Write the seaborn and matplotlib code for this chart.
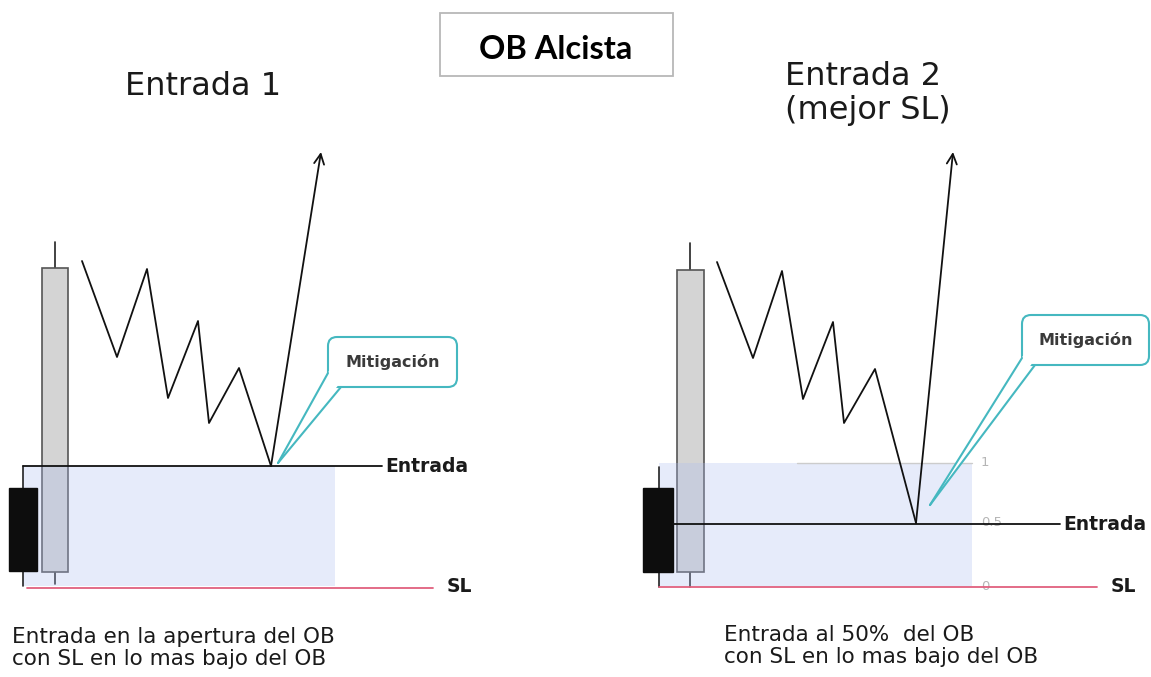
import matplotlib.pyplot as plt
import matplotlib.patches as mpatches
import numpy as np
import pandas as pd
import seaborn as sns

# two panels: "Entrada 1" (left) and "Entrada 2" (right), units = pixels of the picture
panels = ["Entrada 1", "Entrada 2"]
zz_x = {"Entrada 1": [82, 117, 147, 168, 198, 209, 239, 271],
        "Entrada 2": [717, 753, 782, 803, 833, 844, 875, 916]}
zz_y = {"Entrada 1": [261, 357, 269, 398, 321, 423, 368, 466],
        "Entrada 2": [262, 358, 271, 399, 322, 423, 369, 523]}
arrow_tip = {"Entrada 1": (321, 152), "Entrada 2": (953, 152)}

# candles: (left, right, body top, body bottom, wick top, wick bottom)
bear = {"Entrada 1": (9, 37, 488, 571, 466, 586), "Entrada 2": (643, 673, 488, 572, 467, 587)}
bull = {"Entrada 1": (42, 68, 268, 572, 242, 584), "Entrada 2": (677, 704, 270, 572, 243, 587)}

# order block zone: (x0, x1, top, bottom)
ob_zone = {"Entrada 1": (23, 335, 466, 586), "Entrada 2": (659, 972, 463, 586)}
entry_line = {"Entrada 1": (23, 382, 466), "Entrada 2": (673, 1060, 524)}
sl_line = {"Entrada 1": (27, 433, 588), "Entrada 2": (659, 1097, 587)}
fib_labels = ["1", "0.5", "0"]
fib_y = [463, 523, 586]

# callout: box (x0, x1, y0, y1), pointer base points and tip
callout_box = {"Entrada 1": (328, 457, 337, 387), "Entrada 2": (1022, 1149, 315, 365)}
callout_ptr = {"Entrada 1": [(328, 373), (341, 387), (278, 463)],
               "Entrada 2": [(1022, 358), (1035, 365), (930, 505)]}

captions = {"Entrada 1": ["Entrada en la apertura del OB", "con SL en lo mas bajo del OB"],
            "Entrada 2": ["Entrada al 50%  del OB", "con SL en lo mas bajo del OB"]}
titles = {"Entrada 1": ["Entrada 1"], "Entrada 2": ["Entrada 2", "(mejor SL)"]}

sns.set_style("white")
plt.rcParams['font.family'] = ['DejaVu Sans']

fig = plt.figure(figsize=(11.51, 6.77), dpi=100)
ax = fig.add_axes([0, 0, 1, 1])
ax.set_xlim(0, 1151)
ax.set_ylim(677, 0)
ax.axis('off')

teal = "#45b8c0"
ink = "#1a1a1a"
for p in panels:
    # bullish candle (grey)
    l, r, bt, bb, wt, wb = bull[p]
    cx = (l + r) / 2
    ax.plot([cx, cx], [wt, wb], color="#222222", lw=1.2, zorder=1)
    ax.add_patch(mpatches.Rectangle((l, bt), r - l, bb - bt, facecolor="#d4d4d4",
                                    edgecolor="#555555", lw=1.2, zorder=2))
    # OB zone
    x0, x1, top, bot = ob_zone[p]
    ax.add_patch(mpatches.Rectangle((x0, top), x1 - x0, bot - top, facecolor="#aebdf0",
                                    alpha=0.3, edgecolor="none", zorder=3))
    # bearish candle (black)
    l, r, bt, bb, wt, wb = bear[p]
    ax.plot([x0, x0], [wt, wb], color="#222222", lw=1.2, zorder=4)
    ax.add_patch(mpatches.Rectangle((l, bt), r - l, bb - bt, facecolor="#0d0d0d",
                                    edgecolor="#0d0d0d", lw=1, zorder=4))
    # entry and stop loss lines
    ex0, ex1, ey = entry_line[p]
    ax.plot([ex0, ex1], [ey, ey], color="#111111", lw=1.3, zorder=5)
    ax.text(ex1 + 3, ey + 1, "Entrada", fontsize=13.5, fontweight="bold", va="center",
            ha="left", color=ink)
    sx0, sx1, sy = sl_line[p]
    ax.plot([sx0, sx1], [sy, sy], color="#e0607e", lw=1.3, zorder=5)
    ax.text(sx1 + 14, sy - 1, "SL", fontsize=13.5, fontweight="bold", va="center",
            ha="left", color=ink)
    # price path
    df = pd.DataFrame({"x": zz_x[p], "y": zz_y[p]})
    sns.lineplot(data=df, x="x", y="y", sort=False, estimator=None, color="#111111",
                 lw=1.3, ax=ax, zorder=6)
    ax.annotate("", xy=arrow_tip[p], xytext=(zz_x[p][-1], zz_y[p][-1]),
                arrowprops=dict(arrowstyle="->", color="#111111", lw=1.3,
                                mutation_scale=18, shrinkA=0, shrinkB=0), zorder=6)
    # callout
    bx0, bx1, by0, by1 = callout_box[p]
    ax.add_patch(mpatches.FancyBboxPatch((bx0 + 9, by0 + 9), bx1 - bx0 - 18, by1 - by0 - 18,
                                         boxstyle="round,pad=9", facecolor="white",
                                         edgecolor=teal, lw=1.5, zorder=7))
    (ax1, ay1), (ax2, ay2), (tx, ty) = callout_ptr[p]
    ax.add_patch(mpatches.Polygon([(ax1 + 1.5, ay1 - 3), (ax2 - 3, ay2 - 1.5), (tx, ty)],
                                  closed=True, facecolor="white", edgecolor="none", zorder=8))
    ax.plot([ax1, tx], [ay1, ty], color=teal, lw=1.5, zorder=9)
    ax.plot([ax2, tx], [ay2, ty], color=teal, lw=1.5, zorder=9)
    ax.text((bx0 + bx1) / 2, (by0 + by1) / 2, "Mitigación", fontsize=11.5,
            fontweight="bold", color="#3a3a3a", ha="center", va="center", zorder=10)

# fib levels on the right panel
ax.plot([797, 972], [fib_y[0], fib_y[0]], color="#cccccc", lw=1, zorder=5)
for lab, fy in zip(fib_labels, fib_y):
    ax.text(981, fy, lab, fontsize=9.5, color="#b5b5b5", ha="left", va="center", zorder=4)

# titles
title_pos = {"Entrada 1": (125, [95]), "Entrada 2": (785, [85, 119])}
for p in panels:
    tx0, bases = title_pos[p]
    for line, base in zip(titles[p], bases):
        ax.text(tx0, base, line, fontsize=23, color=ink, ha="left", va="baseline")
ax.add_patch(mpatches.Rectangle((440, 13), 233, 63, facecolor="white",
                                edgecolor="#b8b8b8", lw=1.3))
ax.text(556, 59, "OB Alcista", fontsize=23.5, fontweight="bold",
        family=["Lato", "DejaVu Sans"], ha="center", va="baseline", color="black")

# captions
cap_pos = {"Entrada 1": (12, [643, 665]), "Entrada 2": (724, [641, 663])}
for p in panels:
    cx0, bases = cap_pos[p]
    for line, base in zip(captions[p], bases):
        ax.text(cx0, base, line, fontsize=15.5, color=ink, ha="left", va="baseline")

fig.savefig("out.png", dpi=100)
